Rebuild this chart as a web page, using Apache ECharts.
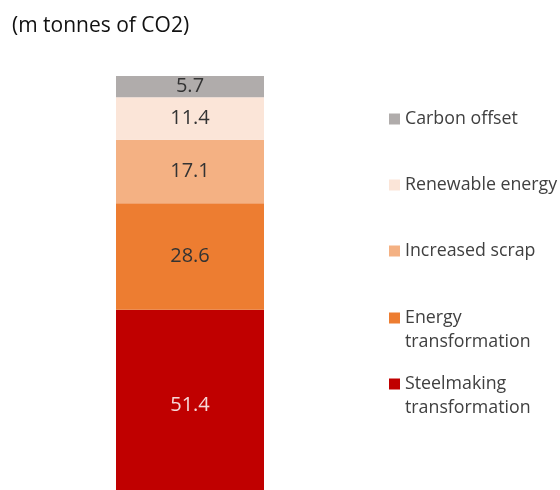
<!DOCTYPE html>
<html>
<head>
<meta charset="utf-8">
<script src="https://cdn.jsdelivr.net/npm/echarts@6/dist/echarts.min.js"></script>
<style>
  html, body { margin: 0; padding: 0; background: #fff; }
  #chart { width: 560px; height: 490px; }
</style>
</head>
<body>
<div id="chart"></div>
<script>
// Abatement components, stacked bottom to top
const seriesNames = ['Steelmaking\ntransformation', 'Energy\ntransformation', 'Increased scrap', 'Renewable energy', 'Carbon offset'];
const seriesValues = [51.4, 28.6, 17.1, 11.4, 5.7];
const seriesColors = ['#c00000', '#ed7d31', '#f4b183', '#fbe5d8', '#b0acab'];
const labelColors = ['#f6d9d9', '#333333', '#333333', '#333333', '#333333'];
const categories = ['Total'];

// Legend order (top to bottom) and the y of each marker's centre
const legendOrder = [4, 3, 2, 1, 0];
const legendMarkerY = [119, 185, 251, 318, 384];

const total = seriesValues.reduce((a, b) => a + b, 0);
const font = '"Open Sans", "Noto Sans", sans-serif';
const LINE = 24;

const chart = echarts.init(document.getElementById('chart'), null, { renderer: 'canvas' });

chart.setOption({
  animation: false,
  title: {
    text: '(m tonnes of CO2)',
    left: 12,
    top: 16,
    padding: 0,
    textStyle: { fontFamily: font, fontSize: 21, fontWeight: 'normal', color: '#111' }
  },
  legend: legendOrder.map((idx, i) => {
    const name = seriesNames[idx];
    const lines = name.split('\n').length;
    // a leading blank line keeps the marker beside the first line of wrapped names
    const shown = lines > 1 ? '\n'.repeat(lines - 1) + name : name;
    const boxHalf = ((lines > 1 ? 2 * lines - 1 : 1) * LINE) / 2;
    return {
      data: [name],
      formatter: () => shown,
      left: 389,
      top: legendMarkerY[i] - boxHalf,
      icon: 'rect',
      itemWidth: 11,
      itemHeight: 11,
      padding: 0,
      selectedMode: false,
      textStyle: {
        fontFamily: font,
        fontSize: 17.8,
        color: '#404040',
        lineHeight: LINE
      }
    };
  }),
  grid: { left: 116, right: 296, top: 76, height: 425, outerBoundsMode: 'none' },
  xAxis: { type: 'category', data: categories, show: false },
  yAxis: { type: 'value', min: 0, max: total, show: false },
  series: seriesNames.map((name, i) => ({
    name: name,
    type: 'bar',
    stack: 'total',
    barWidth: '100%',
    data: [seriesValues[i]],
    itemStyle: { color: seriesColors[i] },
    label: {
      show: true,
      position: 'inside',
      formatter: (p) => p.value.toFixed(1),
      fontFamily: font,
      fontSize: 20,
      color: labelColors[i]
    }
  }))
});
</script>
</body>
</html>
